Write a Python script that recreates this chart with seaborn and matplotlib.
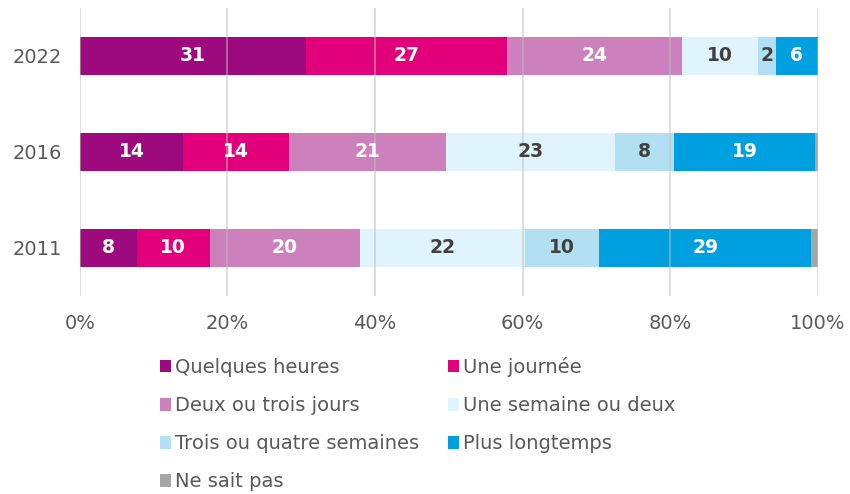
import matplotlib
matplotlib.use("Agg")
import matplotlib.pyplot as plt
import seaborn as sns
import numpy as np
import pandas as pd
from matplotlib.patches import Patch

years = ["2022", "2016", "2011"]
categories = ["Quelques heures", "Une journée", "Deux ou trois jours",
              "Une semaine ou deux", "Trois ou quatre semaines",
              "Plus longtemps", "Ne sait pas"]
quelques_heures = [30.7, 14.0, 7.7]
une_journee = [27.2, 14.4, 9.9]
deux_trois_jours = [23.7, 21.2, 20.3]
une_deux_semaines = [10.3, 22.9, 22.4]
trois_quatre_semaines = [2.4, 8.0, 10.1]
plus_longtemps = [5.7, 19.2, 28.7]
ne_sait_pas = [0.0, 0.3, 0.9]

colors = ["#9C0A7D", "#E2007A", "#CC81BD", "#DFF4FC", "#B2E0F2", "#009FE0", "#A6A6A6"]
label_colors = ["white", "white", "white", "#404040", "#404040", "white", "white"]

series = [quelques_heures, une_journee, deux_trois_jours, une_deux_semaines,
          trois_quatre_semaines, plus_longtemps, ne_sait_pas]
df = pd.DataFrame({c: s for c, s in zip(categories, series)}, index=years)
cum = df.cumsum(axis=1)

sns.set_style("white")
plt.rcParams["font.family"] = ["DejaVu Sans"]

fig = plt.figure(figsize=(8.5, 4.94), dpi=100)
ax = fig.add_axes([0.094, 0.401, 0.868, 0.583])

# stacked bars: draw cumulative totals from the last segment to the first
for i in range(len(categories) - 1, -1, -1):
    d = pd.DataFrame({"year": years, "val": cum[categories[i]].values})
    sns.barplot(data=d, x="val", y="year", color=colors[i], orient="h",
                width=0.4, linewidth=0, saturation=1, ax=ax, zorder=1)

for i, c in enumerate(categories):
    left = cum[c] - df[c]
    for j, y in enumerate(years):
        v = df[c].iloc[j]
        if v < 1.5:
            continue
        ax.text(left.iloc[j] + v / 2, j, f"{v:.0f}", ha="center", va="center",
                color=label_colors[i], fontsize=13.5, fontweight="bold", zorder=3)

ax.set_xlim(0, 100)
ax.set_ylim(2.5, -0.5)
ax.set_xticks(np.arange(0, 101, 20))
ax.set_xticklabels([f"{t}%" for t in range(0, 101, 20)])
ax.set_axisbelow(False)
ax.grid(axis="x", color="#BFBFBF", alpha=0.6, linewidth=1.2)
ax.grid(axis="y", visible=False)
ax.set_xlabel("")
ax.set_ylabel("")
for s in ax.spines.values():
    s.set_visible(False)
ax.tick_params(axis="both", length=0, labelsize=14, colors="#595959")
ax.tick_params(axis="x", pad=13)
ax.tick_params(axis="y", pad=13)

order = [0, 2, 4, 6, 1, 3, 5]
handles = [Patch(facecolor=colors[k], edgecolor="none", label=categories[k]) for k in order]
fig.legend(handles=handles, loc="upper left", bbox_to_anchor=(0.188, 0.277), ncol=2,
           frameon=False, fontsize=14, handlelength=0.6, handleheight=0.6,
           handletextpad=0.2, columnspacing=1.45, labelspacing=0.98,
           labelcolor="#595959", borderaxespad=0, borderpad=0)

fig.savefig("out.png", dpi=100)
